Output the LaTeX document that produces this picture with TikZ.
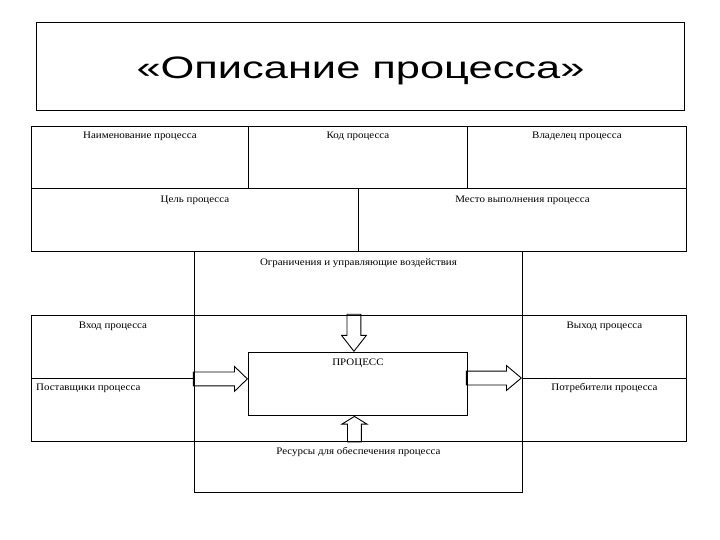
\documentclass[tikz,border=0pt]{standalone}
\usepackage{fontspec}
\setmainfont[FakeStretch=1.095]{Liberation Serif}
\newfontfamily\titlefont[FakeStretch=1.4]{Liberation Sans}
\usetikzlibrary{calc,shapes.arrows}

\begin{document}
\begin{tikzpicture}[x=1pt, y=-1pt,
	box/.style={draw, line width=0.9, inner sep=0, anchor=north west},
	lbl/.style={inner sep=0, font=\fontsize{10}{12}\selectfont},
	blockarrow/.style={draw, line width=0.9, single arrow, inner sep=6.5, minimum width=0, single arrow head extend=5.5, anchor=tip}]

	\useasboundingbox (0,0) rectangle (720,540);

	% Заголовок
	\node [box, minimum width=648, minimum height=88] (title) at (36,22) {};
	\node [inner sep=0, font=\titlefont\fontsize{31}{36}\selectfont] at ([yshift=-4pt]title.center) {«Описание процесса»};

	% Таблица сверху
	\node [box, minimum width=217, minimum height=62] (naim) at (31,126) {};
	\node [box, minimum width=219, minimum height=62] (kod) at (248,126) {};
	\node [box, minimum width=219, minimum height=62] (vlad) at (467,126) {};
	\node [box, minimum width=327, minimum height=63] (cel) at (31,188) {};
	\node [box, minimum width=328, minimum height=63] (mesto) at (358,188) {};
	\node [lbl] at ([yshift=-10pt]naim.north) {Наименование процесса};
	\node [lbl] at ([yshift=-10pt]kod.north) {Код процесса};
	\node [lbl] at ([yshift=-10pt]vlad.north) {Владелец процесса};
	\node [lbl] at ([yshift=-12.5pt]cel.north) {Цель процесса};
	\node [lbl] at ([yshift=-12pt]mesto.north) {Место выполнения процесса};

	% Ограничения
	\node [box, minimum width=328, minimum height=64] (ogr) at (194,251) {};
	\node [lbl] at ([yshift=-12pt]ogr.north) {Ограничения и управляющие воздействия};

	% Вход и выход
	\node [box, minimum width=163, minimum height=63] (vhod) at (31,315) {};
	\node [box, minimum width=163, minimum height=63] (post) at (31,378) {};
	\node [box, minimum width=164, minimum height=63] (vyhod) at (522,315) {};
	\node [box, minimum width=164, minimum height=63] (potr) at (522,378) {};
	\node [lbl] at ([yshift=-11pt]vhod.north) {Вход процесса};
	\node [lbl, anchor=west] at ([xshift=5pt, yshift=-10pt]post.north west) {Поставщики процесса};
	\node [lbl] at ([yshift=-11pt]vyhod.north) {Выход процесса};
	\node [lbl] at ([yshift=-10pt]potr.north) {Потребители процесса};

	% Процесс
	\node [box, minimum width=219, minimum height=63] (proc) at (248,352) {};
	\node [lbl] at ([yshift=-11pt]proc.north) {ПРОЦЕСС};

	% Ресурсы
	\node [box, minimum width=328, minimum height=51] (res) at (194,441) {};
	\node [lbl] at ([yshift=-11pt]res.north) {Ресурсы для обеспечения процесса};

	% Стрелки
	\node [blockarrow, minimum height=54, single arrow tip angle=88] (inarrow)
		at (vhod.south east -| proc.west) {};
	\node [blockarrow, minimum height=55, single arrow tip angle=80] (outarrow)
		at (potr.north west) {};
	\node [blockarrow, minimum height=37, single arrow tip angle=76, rotate=-90] (ograrrow)
		at ([xshift=-4pt]proc.north) {};
	\node [blockarrow, minimum height=25.5, single arrow tip angle=117, rotate=90] (resarrow)
		at ([xshift=-3.5pt]proc.south) {};
\end{tikzpicture}
\end{document}
